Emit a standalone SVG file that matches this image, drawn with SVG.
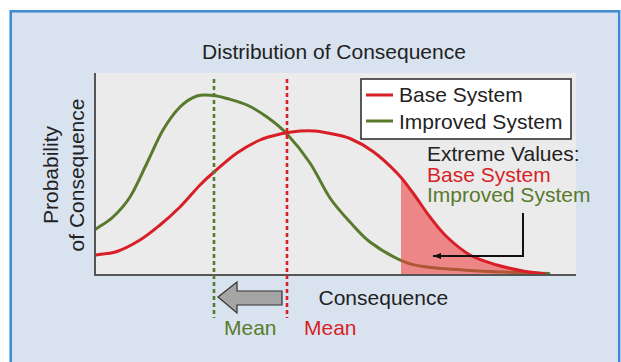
<svg xmlns="http://www.w3.org/2000/svg" width="621" height="362" viewBox="0 0 621 362">
  <defs>
    <style>
      text { font-family: "Liberation Sans", Arial, sans-serif; font-size: 21px; fill: #222; }
      .red { fill: #d81f27; }
      .green { fill: #587a2c; }
      .axis { stroke: #555; stroke-width: 2; fill: none; }
      .curve { fill: none; stroke-width: 3; stroke-linecap: round; stroke-linejoin: round; }
      .mean { stroke-width: 2.6; stroke-dasharray: 4 3; fill: none; }
    </style>
    <marker id="ah" viewBox="0 0 8 6" refX="8" refY="3" markerWidth="8" markerHeight="6" orient="auto" markerUnits="userSpaceOnUse">
      <path d="M0,0 L8,3 L0,6 Z" fill="#111"/>
    </marker>
  </defs>

  <rect x="0" y="0" width="621" height="362" fill="#ffffff"/>
  <rect id="frame" x="10.7" y="11.3" width="608.5" height="370" fill="#d9e3f0" stroke="#3d8ad2" stroke-width="2.5"/>

  <text id="title" x="334" y="59" text-anchor="middle">Distribution of Consequence</text>

  <g id="plot">
    <rect x="95" y="73" width="481" height="202" fill="#ebebeb"/>
  </g>

  <g id="ylabel">
    <text transform="translate(58,175) rotate(-90)" text-anchor="middle">Probability</text>
    <text transform="translate(83.5,175) rotate(-90)" text-anchor="middle">of Consequence</text>
  </g>

  <g id="green-curve">
    <path class="curve" stroke="#587a2c" d="M96,229 C101.7,225 107.3,222.3 113,217 S124.3,206 130,197 S141.5,174.2 147,163 S157.5,139.3 163,130 S174.3,112.7 180,107 S191.5,97.9 197,96 S208,95.1 213,95.5 S221.3,96.9 227,98.5 S240.3,101.9 247,105 S260.3,112.2 267,117 S279.8,126.3 287,134 S302.8,152.3 310,163 S323.3,188.2 330,198 S343.3,214.7 350,222 S361.7,235.7 370,242 S391.2,255.9 400,260 S412.5,264.8 423,266.5 S449.7,269.1 463,270 S488.7,271.4 503,272 S533.7,273 549,273.5"/>
  </g>

  <g id="extreme-fill">
    <path fill="#f03c3c" fill-opacity="0.57" d="M401,275 L401,178 C405,183 407.5,185.7 413,193 S424.3,209.7 430,217 S440.3,230.7 447,237 S461.7,250.3 470,255 S488.2,262.3 497,265 S515,269.5 523,271 S537.7,273 545,274 L545,275 Z"/>
  </g>

  <g id="red-curve">
    <path class="curve" stroke="#d81f27" d="M96,255 C103,253.8 109.7,254 117,251.5 S132.8,244.4 140,240 S153.3,230.5 160,225 S173.3,213.7 180,207 S194.3,190.8 200,185 S207.8,177.3 214,172 S229.3,158.3 237,153 S252.8,143.2 260,140 S273.3,135.5 280,134 S294.2,131.5 300,131 S310,130.6 315,131 S324.2,132.3 330,133.5 S342.8,135.5 350,138.5 S365.2,145.8 373,151.5 S390.3,166.1 397,173 S407.5,185.7 413,193 S424.3,209.7 430,217 S440.3,230.7 447,237 S461.7,250.3 470,255 S488.2,262.3 497,265 S515,269.5 523,271 S537.7,273 545,274"/>
  </g>

  <g id="axes">
    <path class="axis" d="M95,73 V276 M94,275 H576"/>
  </g>

  <g id="mean-lines">
    <path class="mean" stroke="#587a2c" d="M214,79 V318"/>
    <path class="mean" stroke="#d81f27" d="M287,79 V318"/>
  </g>

  <g id="shift-arrow">
    <path d="M218,297 L237,282 L237,291 L282,291 L282,305 L237,305 L237,313 Z" fill="#a5a5a5" stroke="#333" stroke-width="1.2" stroke-linejoin="miter"/>
  </g>

  <g id="legend">
    <rect x="361" y="79" width="210" height="60" fill="#ffffff" stroke="#333" stroke-width="1.6"/>
    <line x1="366" y1="95" x2="393" y2="95" stroke="#d81f27" stroke-width="3"/>
    <text x="399" y="102">Base System</text>
    <line x1="366" y1="121" x2="393" y2="121" stroke="#587a2c" stroke-width="3"/>
    <text x="399" y="129">Improved System</text>
  </g>

  <g id="extreme-label">
    <text x="427" y="161">Extreme Values:</text>
    <text x="427" y="181.5" class="red">Base System</text>
    <text x="427" y="202" class="green">Improved System</text>
  </g>

  <g id="connectors">
    <path d="M523,213 V256 H433" fill="none" stroke="#111" stroke-width="2" marker-end="url(#ah)"/>
  </g>

  <g id="xlabel">
    <text x="318.5" y="305">Consequence</text>
  </g>

  <g id="mean-labels">
    <text x="224" y="335" class="green">Mean</text>
    <text x="304" y="335" class="red">Mean</text>
  </g>
</svg>
